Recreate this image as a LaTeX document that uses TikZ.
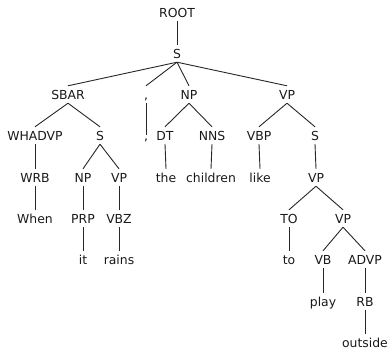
\documentclass[tikz,border=0pt]{standalone}
\usepackage{fontspec}
\setmainfont{DejaVu Sans}
\begin{document}
\begin{tikzpicture}[x=1pt,y=-1pt,
  lbl/.style={anchor=base,font=\fontsize{12.4}{14}\selectfont,text=black!90,
    inner xsep=0pt,inner ysep=4pt,text height=9pt,text depth=0pt},
  edge/.style={draw=black!85,line width=0.9pt}]
\useasboundingbox (0,0) rectangle (387,354);
\def\La{17}\def\Lb{58}\def\Lc{99}\def\Ld{140}\def\Le{182}\def\Lf{223}\def\Lg{264}\def\Lh{306}\def\Li{347}
\node[lbl] (root) at (177,\La) {ROOT};
\node[lbl] (s) at (177,\Lb) {S};
\node[lbl] (sbar) at (68,\Lc) {SBAR};
\node[lbl] (c1) at (146,\Lc) {,};
\node[lbl] (np) at (189,\Lc) {NP};
\node[lbl] (vp) at (287,\Lc) {VP};
\node[lbl] (whadvp) at (35,\Ld) {WHADVP};
\node[lbl] (s2) at (100,\Ld) {S};
\node[lbl] (c2) at (146,\Ld) {,};
\node[lbl] (dt) at (165,\Ld) {DT};
\node[lbl] (nns) at (212,\Ld) {NNS};
\node[lbl] (vbp) at (259,\Ld) {VBP};
\node[lbl] (s3) at (315,\Ld) {S};
\node[lbl] (wrb) at (35,\Le) {WRB};
\node[lbl] (np2) at (83,\Le) {NP};
\node[lbl] (vp2) at (119,\Le) {VP};
\node[lbl] (the) at (166,\Le) {the};
\node[lbl] (children) at (211,\Le) {children};
\node[lbl] (like) at (260,\Le) {like};
\node[lbl] (vp3) at (316,\Le) {VP};
\node[lbl] (when) at (35,\Lf) {When};
\node[lbl] (prp) at (83,\Lf) {PRP};
\node[lbl] (vbz) at (119,\Lf) {VBZ};
\node[lbl] (to1) at (289,\Lf) {TO};
\node[lbl] (vp4) at (343,\Lf) {VP};
\node[lbl] (it) at (83,\Lg) {it};
\node[lbl] (rains) at (119,\Lg) {rains};
\node[lbl] (to2) at (289,\Lg) {to};
\node[lbl] (vb) at (323,\Lg) {VB};
\node[lbl] (advp) at (365,\Lg) {ADVP};
\node[lbl] (play) at (323,\Lh) {play};
\node[lbl] (rb) at (365,\Lh) {RB};
\node[lbl] (outside) at (365,\Li) {outside};
\foreach \a/\b in {root/s,s/sbar,s/c1,s/np,s/vp,sbar/whadvp,sbar/s2,np/dt,np/nns,vp/vbp,vp/s3,
  whadvp/wrb,s2/np2,s2/vp2,dt/the,nns/children,vbp/like,s3/vp3,wrb/when,np2/prp,vp2/vbz,
  vp3/to1,vp3/vp4,prp/it,vbz/rains,to1/to2,vp4/vb,vp4/advp,vb/play,advp/rb,rb/outside}
  \draw[edge] (\a.south) -- (\b.north);
\draw[edge,shorten >=-8pt] (c1.south) -- (c2.north);
\end{tikzpicture}
\end{document}
